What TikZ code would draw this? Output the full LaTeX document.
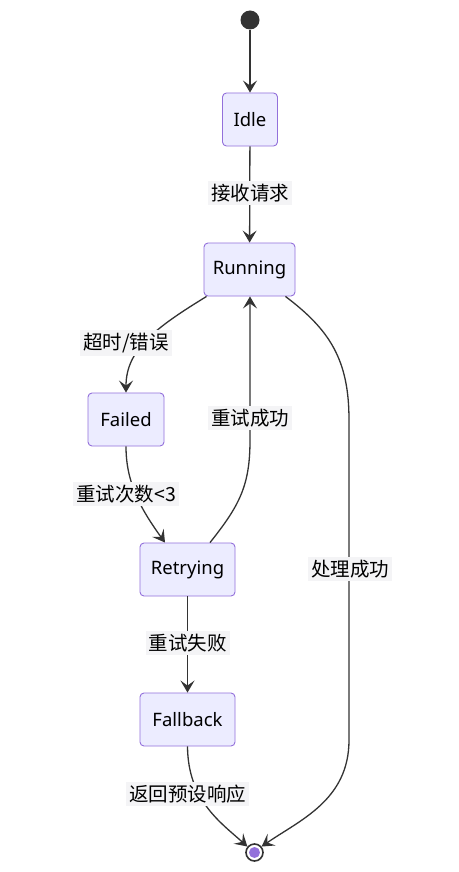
\documentclass[tikz,border=0pt]{standalone}
\usepackage{fontspec}
\setmainfont{Noto Sans}
\newfontfamily\cjk{Noto Sans CJK SC}
\usetikzlibrary{arrows.meta,positioning}
\definecolor{statefill}{HTML}{ECECFF}
\definecolor{stateline}{HTML}{9370DB}
\definecolor{edgeline}{HTML}{333333}
\definecolor{lblbg}{HTML}{F4F4F6}

\begin{document}
\begin{tikzpicture}[x=1pt,y=-1pt,
	state/.style={rectangle, rounded corners=4pt, draw=stateline, fill=statefill, line width=0.9pt, minimum height=53pt, inner xsep=0pt, font=\fontsize{18.5}{20}\selectfont},
	lbl/.style={fill=lblbg, inner sep=3pt, font=\cjk\fontsize{19.5}{21}\selectfont},
	trans/.style={draw=edgeline, line width=1.3pt, -{Stealth[length=12pt,width=14pt,inset=5pt]}}]
\useasboundingbox (0,0) rectangle (458,872);
\fill [white] (0,0) rectangle (458,872);
% states
\node [circle, fill=edgeline, minimum size=19pt, inner sep=0pt] (start) at (250,20) {};
\node [state, minimum width=55pt] (idle) at (250,119.5) {Idle};
\node [state, minimum width=91pt] (running) at (249.5,269.5) {Running};
\node [state, minimum width=76pt] (failed) at (126,419.5) {Failed};
\node [state, minimum width=95pt] (retrying) at (187.5,569.5) {Retrying};
\node [state, minimum width=95pt] (fallback) at (187.5,719.5) {Fallback};
\node [circle, draw=edgeline, fill=white, line width=1.6pt, minimum size=17pt, inner sep=0pt] (end) at (254.5,852.5) {};
\fill [stateline] (end.center) circle (5.5pt);
% transitions
\draw [trans] (start) -- (idle);
\draw [trans] (idle) -- (running);
\draw [trans] ([xshift=3pt]running.south west) .. controls (155,328) and (126,350) .. (failed.north);
\draw [trans] (failed.south) .. controls (126,482) and (140,508) .. ([xshift=-22.5pt]retrying.north);
\draw [trans] ([xshift=22.5pt]retrying.north) .. controls (240,505) and (250,485) .. (250,440) -- (running.south -| 250,0);
\draw [trans] ([xshift=-10pt]running.south east) .. controls (330,330) and (349,360) .. (349,420) -- (349,740) .. controls (349,800) and (300,820) .. (end.40);
\draw [trans] (retrying) -- (fallback);
\draw [trans] (fallback.south) .. controls (188,800) and (220,822) .. (end.140);
% labels
\node [lbl] (lRecv) at (250,193) {接收请求};
\node [lbl] (lTimeout) at (126,343) {超时/错误};
\node [lbl] (lRetryOk) at (250,418) {重试成功};
\node [lbl] (lCount) at (126,494) {重试次数<3};
\node [lbl] (lDone) at (350,569) {处理成功};
\node [lbl] (lRetryFail) at (187.5,643) {重试失败};
\node [lbl] (lFallback) at (187.5,794) {返回预设响应};
\end{tikzpicture}
\end{document}
